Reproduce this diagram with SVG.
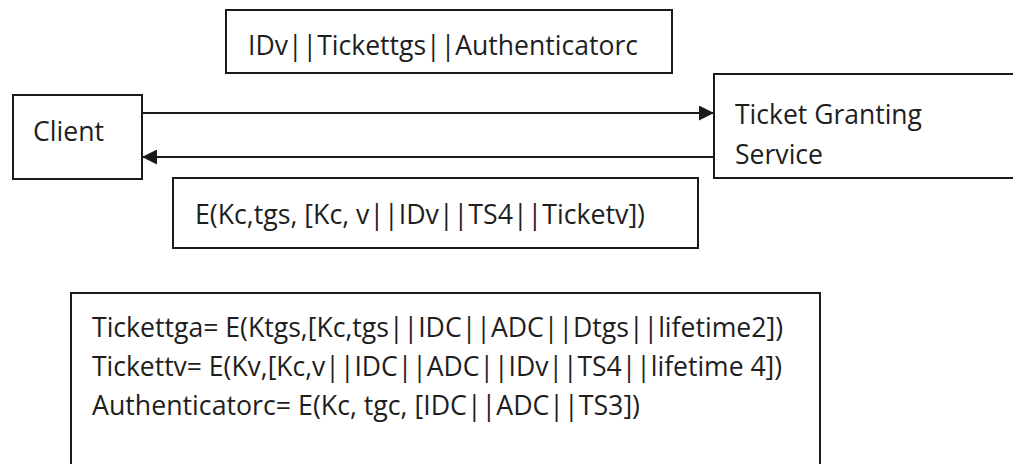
<svg xmlns="http://www.w3.org/2000/svg" width="1013" height="464" viewBox="0 0 1013 464">
  <style>
    .box { fill: #ffffff; stroke: #1a1a1a; stroke-width: 2; }
    .lbl { font-family: "Open Sans", "Liberation Sans", sans-serif; font-size: 28px; fill: #1e1e1e; font-variant-ligatures: none; }
    .wire { stroke: #1a1a1a; stroke-width: 2.2; fill: none; }
  </style>
  <defs>
    <marker id="head" viewBox="0 0 15 15" refX="15" refY="7.5" markerWidth="15" markerHeight="15" markerUnits="userSpaceOnUse" orient="auto">
      <path d="M0,0 L15,7.5 L0,15 Z" fill="#1a1a1a"/>
    </marker>
  </defs>
  <rect width="1013" height="464" fill="#ffffff"/>

  <!-- request message label -->
  <g id="request-msg">
    <rect class="box" x="226" y="10" width="446" height="63"/>
    <text class="lbl" x="248" y="55" textLength="390" lengthAdjust="spacingAndGlyphs">IDv||Tickettgs||Authenticatorc</text>
  </g>

  <!-- client node -->
  <g id="client">
    <rect class="box" x="13" y="95" width="129" height="84"/>
    <text class="lbl" x="33" y="141" textLength="71" lengthAdjust="spacingAndGlyphs">Client</text>
  </g>

  <!-- ticket granting service node -->
  <g id="tgs">
    <rect class="box" x="714" y="74" width="320" height="104"/>
    <text class="lbl" x="735" y="124" textLength="187" lengthAdjust="spacingAndGlyphs">Ticket Granting</text>
    <text class="lbl" x="735" y="164" textLength="88" lengthAdjust="spacingAndGlyphs">Service</text>
  </g>

  <!-- reply message label -->
  <g id="reply-msg">
    <rect class="box" x="173" y="178" width="525" height="70"/>
    <text class="lbl" x="195" y="224" textLength="450" lengthAdjust="spacingAndGlyphs">E(Kc,tgs, [Kc, v||IDv||TS4||Ticketv])</text>
  </g>

  <!-- definitions of ticket and authenticator -->
  <g id="definitions">
    <rect class="box" x="71" y="293" width="749" height="185"/>
    <text class="lbl" x="92" y="337" textLength="691" lengthAdjust="spacingAndGlyphs">Tickettga= E(Ktgs,[Kc,tgs||IDC||ADC||Dtgs||lifetime2])</text>
    <text class="lbl" x="92" y="376" textLength="690" lengthAdjust="spacingAndGlyphs">Tickettv= E(Kv,[Kc,v||IDC||ADC||IDv||TS4||lifetime 4])</text>
    <text class="lbl" x="92" y="415" textLength="548" lengthAdjust="spacingAndGlyphs">Authenticatorc= E(Kc, tgc, [IDC||ADC||TS3])</text>
  </g>

  <!-- message connectors -->
  <g id="connectors">
    <line class="wire" x1="141" y1="113" x2="714" y2="113" marker-end="url(#head)"/>
    <line class="wire" x1="714" y1="157" x2="142" y2="157" marker-end="url(#head)"/>
  </g>
</svg>
